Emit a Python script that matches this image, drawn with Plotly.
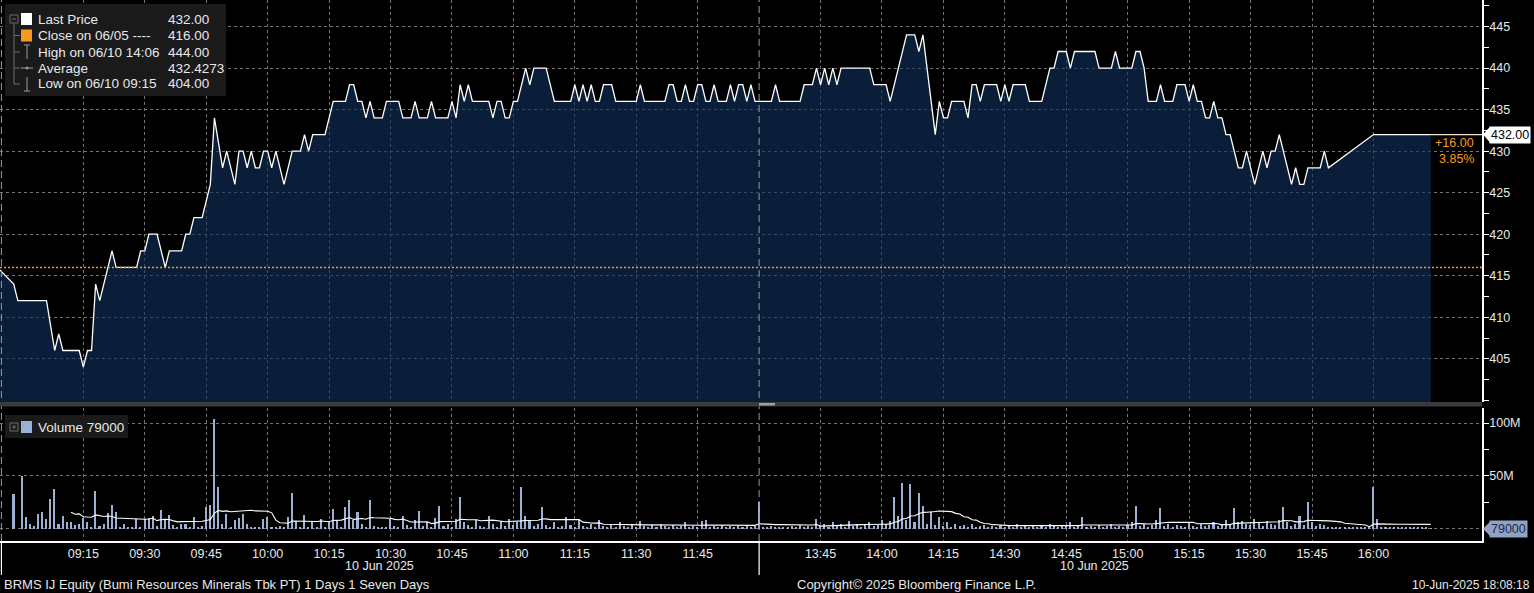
import plotly.graph_objects as go
import pandas as pd

# ---------------- text ----------------
ticker_text = "BRMS IJ Equity (Bumi Resources Minerals Tbk PT) 1 Days 1 Seven Days"
copyright_text = "Copyright\u00a9 2025 Bloomberg Finance L.P."
stamp_text = "10-Jun-2025 18:08:18"
session_date = "10 Jun 2025"
prev_close_date = "06/05"
trade_date = "06/10"

# ---------------- price data (1-minute, 10 Jun 2025) ----------------
price_times = [
    "08:54", "08:58", "08:59", "09:06", "09:08", "09:09", "09:10", "09:14", "09:15", "09:16",
    "09:17", "09:18", "09:19", "09:22", "09:23", "09:28", "09:29", "09:30", "09:31", "09:33",
    "09:35", "09:36", "09:39", "09:40", "09:41", "09:42", "09:44", "09:46", "09:47", "09:49",
    "09:50", "09:52", "09:53", "09:54", "09:55", "09:56", "09:57", "09:58", "09:59", "10:00",
    "10:01", "10:02", "10:04", "10:06", "10:08", "10:09", "10:10", "10:11", "10:14", "10:16",
    "10:19", "10:20", "10:21", "10:22", "10:23", "10:24", "10:25", "10:26", "10:28", "10:29",
    "10:32", "10:33", "10:35", "10:36", "10:37", "10:39", "10:40", "10:41", "10:44", "10:45",
    "10:46", "10:47", "10:48", "10:49", "10:50", "10:54", "10:55", "10:56", "10:57", "10:58",
    "10:59", "11:00", "11:01", "11:03", "11:04", "11:05", "11:08", "11:10", "11:14", "11:15",
    "11:16", "11:17", "11:18", "11:19", "11:20", "11:21", "11:22", "11:24", "11:25", "11:30",
    "11:31", "11:32", "11:37", "11:38", "11:39", "11:40", "11:41", "11:42", "11:43", "11:44",
    "11:45", "11:46", "11:47", "11:48", "11:49", "11:50", "11:52", "11:53", "11:54", "11:55",
    "11:56", "11:57", "11:58", "11:59",
    "13:30", "13:33", "13:34", "13:35", "13:40", "13:41", "13:43", "13:44", "13:45", "13:46",
    "13:47", "13:48", "13:49", "13:50", "13:57", "13:58", "14:01", "14:02", "14:06", "14:08",
    "14:09", "14:10", "14:13", "14:14", "14:15", "14:16", "14:17", "14:20", "14:21", "14:22",
    "14:23", "14:24", "14:25", "14:28", "14:29", "14:30", "14:31", "14:32", "14:35", "14:36",
    "14:39", "14:41", "14:42", "14:43", "14:45", "14:46", "14:47", "14:52", "14:53", "14:56",
    "14:57", "14:58", "15:01", "15:02", "15:03", "15:04", "15:05", "15:07", "15:08", "15:09",
    "15:11", "15:12", "15:14", "15:15", "15:16", "15:17", "15:18", "15:19", "15:20", "15:21",
    "15:22", "15:23", "15:24", "15:25", "15:27", "15:28", "15:29", "15:31", "15:33", "15:34",
    "15:35", "15:36", "15:37", "15:39", "15:40", "15:41", "15:42", "15:43", "15:44", "15:47",
    "15:48", "15:49", "16:00", "16:14",
]
price_vals = [
    416, 414, 412, 412, 406, 408, 406, 406, 404, 406,
    406, 414, 412, 418, 416, 416, 418, 418, 420, 420,
    416, 418, 418, 420, 420, 422, 422, 426, 434, 428,
    430, 426, 430, 430, 428, 430, 428, 428, 430, 430,
    428, 430, 426, 430, 430, 432, 430, 432, 432, 436,
    436, 438, 438, 436, 436, 434, 436, 434, 434, 436,
    436, 434, 434, 436, 434, 434, 436, 434, 434, 436,
    434, 438, 436, 438, 436, 436, 434, 436, 436, 434,
    434, 436, 436, 440, 438, 440, 440, 436, 436, 438,
    436, 438, 436, 438, 436, 436, 438, 438, 436, 436,
    438, 436, 436, 438, 438, 436, 436, 438, 436, 436,
    438, 438, 436, 436, 438, 436, 436, 438, 436, 438,
    438, 436, 438, 436,
    436, 436, 438, 436, 436, 438, 438, 440, 438, 440,
    438, 440, 438, 440, 440, 438, 438, 436, 444, 444,
    442, 444, 432, 436, 434, 434, 436, 436, 434, 438,
    438, 436, 438, 438, 436, 438, 436, 438, 438, 436,
    436, 440, 440, 442, 442, 440, 442, 442, 440, 440,
    442, 440, 440, 442, 442, 440, 436, 436, 438, 436,
    436, 438, 438, 436, 438, 436, 436, 434, 434, 436,
    434, 434, 432, 432, 428, 428, 430, 426, 430, 428,
    430, 430, 432, 428, 426, 428, 426, 426, 428, 428,
    430, 428, 432, 432,
]
prev_close = 416
avg_price = 432.4273

# ---------------- volume (millions of shares per minute) ----------------
vol_am_start = "08:58"
vol_am = [
    33, 0,
    50, 11, 5, 3, 14, 16, 9, 28, 38, 5, 12, 6, 6, 4, 5,
    10, 6, 2, 36, 3, 5, 15, 23, 16, 2, 5, 2, 1, 9, 1,
    9, 10, 12, 3, 18, 8, 13, 4, 2, 5, 5, 2, 11, 2, 3,
    21, 23, 104, 40, 5, 14, 2, 8, 10, 14, 5, 2, 1, 1, 9,
    11, 1, 1, 3, 1, 11, 34, 7, 1, 13, 2, 7, 2, 9, 2,
    6, 19, 8, 2, 21, 27, 8, 16, 5, 2, 27, 3, 1, 1, 1,
    9, 3, 2, 12, 4, 2, 8, 17, 3, 6, 2, 10, 22, 3, 5,
    2, 9, 30, 6, 4, 2, 8, 3, 2, 12, 5, 2, 7, 3, 9,
    4, 6, 40, 12, 8, 3, 5, 21, 4, 2, 6, 2, 3, 11, 4,
    2, 9, 3, 2, 5, 2, 8, 3, 2, 4, 2, 6, 3, 2, 5,
    2, 7, 3, 2, 4, 2, 5, 3, 2, 4, 2, 3, 6, 2, 3,
    2, 7, 8, 2, 3, 2, 4, 2, 3, 2, 3, 2, 4, 2, 3,
]
vol_pm_start = "13:30"
vol_pm = [
    25, 2, 1, 3, 2, 1, 2, 1, 3, 1, 4, 2, 3, 2, 9,
    3, 5, 2, 6, 3, 5, 2, 7, 3, 5, 2, 4, 6, 3, 4,
    8, 5, 7, 30, 12, 43, 8, 42, 6, 34, 22, 5, 16, 4, 11,
    3, 6, 2, 5, 3, 4, 2, 5, 2, 3, 4, 2, 3, 2, 4,
    2, 3, 2, 5, 2, 3, 2, 4, 2, 3, 2, 5, 3, 2, 4,
    3, 6, 2, 3, 11, 2, 3, 2, 4, 2, 3, 5, 2, 3, 2,
    4, 6, 22, 3, 5, 2, 4, 8, 20, 3, 5, 2, 4, 3, 2,
    6, 3, 2, 5, 3, 4, 6, 3, 5, 8, 4, 20, 6, 7, 5,
    4, 9, 6, 3, 7, 5, 4, 8, 21, 6, 3, 5, 12, 4, 25,
    6, 3, 5, 4, 2, 1, 1, 1, 1, 1, 1, 1, 1, 1, 1,
    40, 9, 2, 1, 2, 1, 1, 1, 1, 1, 1, 1, 1, 1, 0.079,
]
last_volume = 79000
vol_sma_period = 15

# ---------------- axis labels ----------------
x_tick_labels = ["09:15", "09:30", "09:45", "10:00", "10:15", "10:30", "10:45", "11:00",
                 "11:15", "11:30", "11:45", "13:45", "14:00", "14:15", "14:30", "14:45",
                 "15:00", "15:15", "15:30", "15:45", "16:00"]
price_ticks = [405, 410, 415, 420, 425, 430, 435, 440, 445]
vol_ticks = [0, 50, 100]
vol_tick_text = ["", "50M", "100M"]

# ---------------- session time axis (lunch break removed) ----------------
AM_OPEN = 9 * 60
PM_OPEN = 13 * 60 + 30
AM_SLOTS = 180


def slot(t):
    h, m = map(int, t.split(":"))
    v = h * 60 + m
    return AM_SLOTS + v - PM_OPEN if v >= PM_OPEN else v - AM_OPEN


px_x = [slot(t) for t in price_times]
vol_x = [slot(vol_am_start) + i for i in range(len(vol_am))] + \
        [slot(vol_pm_start) + i for i in range(len(vol_pm))]
vol_all = vol_am + vol_pm
vol_sma = pd.Series(vol_all).rolling(vol_sma_period).mean().tolist()

last_price = price_vals[-1]
hi = max(price_vals)
lo = min(price_vals)
hi_t = price_times[price_vals.index(hi)]
lo_t = price_times[price_vals.index(lo)]
chg = last_price - prev_close
pct = chg / prev_close * 100

# ---------------- geometry ----------------
W, H = 1534, 593
MR, MB = 52, 52
PW, PH = W - MR, H - MB


def fx(x):
    return x / PW


def fy(y):
    return 1 - y / PH


X_RANGE = [-5.35, 356.5]
GRID = "#747474"
TXT = "#e8e8e8"
FONT = "Liberation Sans, Arial, sans-serif"
ORANGE = "#f39c1f"
VOLC = "#9cb0d4"

fig = go.Figure()
fig.add_trace(go.Scatter(
    x=px_x, y=price_vals, mode="lines", xaxis="x", yaxis="y",
    line=dict(color="white", width=1.3), fill="tozeroy",
    fillcolor="rgba(16,48,94,0.62)", hoverinfo="skip"))
fig.add_trace(go.Bar(
    x=vol_x, y=vol_all, xaxis="x", yaxis="y2", width=0.38,
    marker=dict(color=VOLC, line=dict(width=0)), hoverinfo="skip"))
fig.add_trace(go.Scatter(
    x=vol_x, y=vol_sma, mode="lines", xaxis="x", yaxis="y2",
    line=dict(color="white", width=1.1), hoverinfo="skip"))

shapes = []
annos = []

# previous close dotted line
shapes.append(dict(type="line", xref="paper", yref="y", x0=0, x1=1, y0=prev_close, y1=prev_close,
                   line=dict(color=ORANGE, width=1.6, dash="2px,2px")))
# last price extension to axis
shapes.append(dict(type="line", xref="x", yref="y", x0=px_x[-1], x1=X_RANGE[1],
                   y0=last_price, y1=last_price, line=dict(color="#f2e6d0", width=1.2)))
# day separator and session break
for xb in (slot("08:55"), AM_SLOTS):
    shapes.append(dict(type="line", xref="x", yref="paper", x0=xb, x1=xb, y0=0, y1=1,
                       line=dict(color="#9a9a9a", width=1, dash="7px,4px")))
    shapes.append(dict(type="line", xref="x", yref="paper", x0=xb, x1=xb, y0=fy(575), y1=0,
                       line=dict(color="white", width=1.2)))
# panel separator
shapes.append(dict(type="rect", xref="paper", yref="paper", x0=0, x1=1, y0=fy(406.5), y1=fy(402),
                   fillcolor="#3b3b3b", line=dict(width=0), layer="above"))
shapes.append(dict(type="rect", xref="paper", yref="paper", x0=fx(759), x1=fx(775), y0=fy(405.5), y1=fy(403),
                   fillcolor="#a0a0a0", line=dict(width=0), layer="above"))

# legend panels
shapes.append(dict(type="rect", xref="paper", yref="paper", x0=fx(5), x1=fx(226), y0=fy(96), y1=fy(4),
                   fillcolor="#1a1a1a", line=dict(width=0), layer="above"))
shapes.append(dict(type="rect", xref="paper", yref="paper", x0=fx(5), x1=fx(128), y0=fy(438), y1=fy(415),
                   fillcolor="#1a1a1a", line=dict(width=0), layer="above"))

rows = [19, 35.5, 52, 68, 84]
TREE = "#6d6d6d"


def seg(x0, y0, x1, y1, color=TREE, w=1):
    shapes.append(dict(type="line", xref="paper", yref="paper", x0=fx(x0), x1=fx(x1), y0=fy(y0), y1=fy(y1),
                       line=dict(color=color, width=w), layer="above"))


# tree connectors
seg(14, 24, 14, 84)
for r in rows[1:]:
    seg(14, r, 20, r)
# box-minus icon
shapes.append(dict(type="rect", xref="paper", yref="paper", x0=fx(10), x1=fx(18), y0=fy(23), y1=fy(15),
                   line=dict(color=TREE, width=1), layer="above"))
seg(12, 19, 16, 19)
# color squares
shapes.append(dict(type="rect", xref="paper", yref="paper", x0=fx(21), x1=fx(32), y0=fy(25), y1=fy(13),
                   fillcolor="white", line=dict(width=0), layer="above"))
shapes.append(dict(type="rect", xref="paper", yref="paper", x0=fx(21), x1=fx(32), y0=fy(41.5), y1=fy(29.5),
                   fillcolor=ORANGE, line=dict(width=0), layer="above"))
# high / average / low icons
ICON = "#9a9a9a"
seg(27, 45, 27, 59, ICON); seg(24, 45, 30, 45, ICON)
seg(21, 68, 33, 68, ICON)
shapes.append(dict(type="circle", xref="paper", yref="paper", x0=fx(25.5), x1=fx(28.5), y0=fy(69.5), y1=fy(66.5),
                   fillcolor=ICON, line=dict(width=0), layer="above"))
seg(27, 77, 27, 91, ICON); seg(24, 91, 30, 91, ICON)

labels = ["Last Price", f"Close on {prev_close_date} ----", f"High on {trade_date} {hi_t}",
          "Average", f"Low on {trade_date} {lo_t}"]
values = [f"{last_price:.2f}", f"{prev_close:.2f}", f"{hi:.2f}", f"{avg_price:.4f}", f"{lo:.2f}"]
for r, lab, val in zip(rows, labels, values):
    annos.append(dict(xref="paper", yref="paper", x=fx(36), y=fy(r), text=lab, showarrow=False,
                      xanchor="left", yanchor="middle", font=dict(size=13.5, color=TXT, family=FONT)))
    annos.append(dict(xref="paper", yref="paper", x=fx(166), y=fy(r), text=val, showarrow=False,
                      xanchor="left", yanchor="middle", font=dict(size=13.5, color=TXT, family=FONT)))

# volume legend
shapes.append(dict(type="rect", xref="paper", yref="paper", x0=fx(10), x1=fx(18), y0=fy(431), y1=fy(423),
                   line=dict(color=TREE, width=1), layer="above"))
seg(12, 427, 16, 427)
seg(14, 425, 14, 429)
shapes.append(dict(type="rect", xref="paper", yref="paper", x0=fx(21), x1=fx(32), y0=fy(433), y1=fy(421),
                   fillcolor=VOLC, line=dict(width=0), layer="above"))
annos.append(dict(xref="paper", yref="paper", x=fx(36), y=fy(427), text=f"Volume {last_volume}",
                  showarrow=False, xanchor="left", yanchor="middle",
                  font=dict(size=13.5, color=TXT, family=FONT)))

# last price tag
annos.append(dict(xref="paper", yref="y", x=fx(1489), y=last_price, text=f"{last_price:.2f}",
                  showarrow=False, xanchor="left", yanchor="middle", bgcolor="white", borderpad=1,
                  font=dict(size=12.5, color="black", family=FONT)))
shapes.append(dict(type="path", xref="paper", yref="y",
                   path=f"M {fx(1483)},{last_price} L {fx(1490)},{last_price + 0.95} L {fx(1490)},{last_price - 0.95} Z",
                   fillcolor="white", line=dict(width=0)))
# change labels
annos.append(dict(xref="paper", yref="paper", x=fx(1476), y=fy(143), text=f"{chg:+.2f}", showarrow=False,
                  xanchor="right", yanchor="middle", font=dict(size=12.5, color=ORANGE, family=FONT)))
annos.append(dict(xref="paper", yref="paper", x=fx(1476), y=fy(158.5), text=f"{pct:.2f}%", showarrow=False,
                  xanchor="right", yanchor="middle", font=dict(size=12.5, color=ORANGE, family=FONT)))
# volume tag
annos.append(dict(xref="paper", yref="y2", x=fx(1489), y=0, text=f"{last_volume}",
                  showarrow=False, xanchor="left", yanchor="middle", bgcolor="#8fa2c6", borderpad=1,
                  font=dict(size=12.5, color="#1d2a45", family=FONT)))
shapes.append(dict(type="path", xref="paper", yref="y2",
                   path=f"M {fx(1483)},0 L {fx(1490)},6.8 L {fx(1490)},-6.8 Z",
                   fillcolor="#8fa2c6", line=dict(width=0)))

# date labels under sessions
for xc in ((X_RANGE[0] + AM_SLOTS) / 2, (AM_SLOTS + px_x[-1]) / 2):
    annos.append(dict(xref="x", yref="paper", x=xc, y=fy(566), text=session_date, showarrow=False,
                      xanchor="center", yanchor="middle", font=dict(size=12.5, color=TXT, family=FONT)))
# footer
annos.append(dict(xref="paper", yref="paper", x=fx(2), y=fy(584.5), text=ticker_text, showarrow=False,
                  xanchor="left", yanchor="middle", font=dict(size=13, color=TXT, family=FONT)))
annos.append(dict(xref="paper", yref="paper", x=fx(795), y=fy(584.5), text=copyright_text, showarrow=False,
                  xanchor="left", yanchor="middle", font=dict(size=13, color=TXT, family=FONT)))
annos.append(dict(xref="paper", yref="paper", x=fx(1532), y=fy(584.5), text=stamp_text, showarrow=False,
                  xanchor="right", yanchor="middle", font=dict(size=12, color=TXT, family=FONT)))

fig.update_layout(
    width=W, height=H,
    margin=dict(l=0, r=MR, t=0, b=MB, pad=0),
    paper_bgcolor="black", plot_bgcolor="black",
    showlegend=False, bargap=0,
    font=dict(family=FONT, size=12.5, color=TXT),
    xaxis=dict(range=X_RANGE, anchor="y2", tickvals=[slot(t) for t in x_tick_labels], ticktext=x_tick_labels,
               showgrid=True, gridcolor=GRID, griddash="3px,3px", gridwidth=1,
               showline=True, linecolor="white", linewidth=1.5, ticks="", zeroline=False,
               tickfont=dict(size=12.5, color=TXT)),
    yaxis=dict(domain=[fy(402), 1], range=[399.8, 448.2], side="right", anchor="x",
               tickvals=price_ticks, ticktext=[str(v) for v in price_ticks], tickprefix="\u25b8",
               showgrid=True, gridcolor=GRID, griddash="3px,3px", gridwidth=1,
               showline=True, linecolor="white", linewidth=1.5, zeroline=False,
               ticks="outside", ticklen=3, tickcolor="white",
               minor=dict(dtick=2.5, tick0=0, ticks="outside", ticklen=5, tickcolor="white", showgrid=False),
               tickfont=dict(size=12.5, color=TXT)),
    yaxis2=dict(domain=[0, fy(408)], range=[-11.5, 114.2], side="right", anchor="x",
                tickvals=vol_ticks, ticktext=vol_tick_text, tickprefix="\u25b8",
                showgrid=True, gridcolor=GRID, griddash="3px,3px", gridwidth=1,
                showline=True, linecolor="white", linewidth=1.5, zeroline=False,
                ticks="outside", ticklen=3, tickcolor="white",
                minor=dict(dtick=25, tick0=0, ticks="outside", ticklen=5, tickcolor="white", showgrid=False),
                tickfont=dict(size=12.5, color=TXT)),
    shapes=shapes, annotations=annos,
)

fig.write_html("out.html", config={"displayModeBar": False},
               post_script="document.body.style.margin='0';document.body.style.overflow='hidden';")
